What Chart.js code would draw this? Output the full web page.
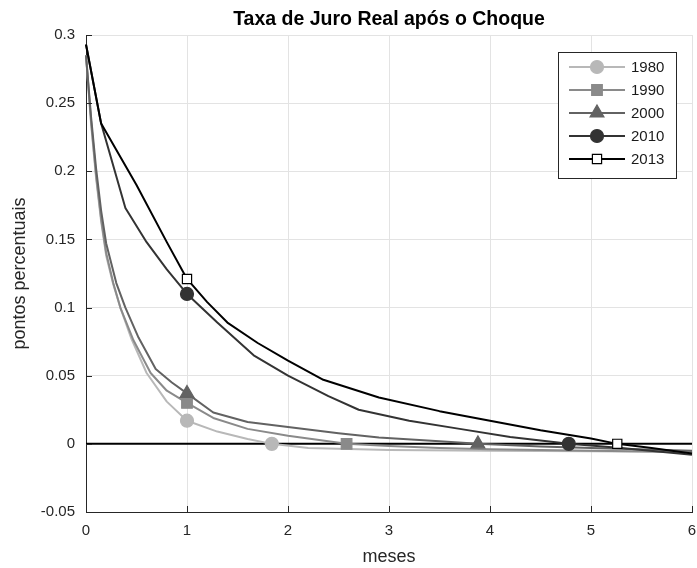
<!DOCTYPE html>
<html>
<head>
<meta charset="utf-8">
<script src="https://cdn.jsdelivr.net/npm/chart.js@4/dist/chart.umd.min.js"></script>
<style>
  html, body { margin: 0; padding: 0; background: #ffffff; }
  #wrap { width: 697px; height: 568px; }
</style>
</head>
<body>
<div id="wrap"><canvas id="c" width="697" height="568"></canvas></div>
<script>
// ---- data ----
const seriesNames = ['1980', '1990', '2000', '2010', '2013'];

const x1980 = [0, 0.05, 0.1, 0.15, 0.2, 0.27, 0.34, 0.45, 0.6, 0.8, 1, 1.3, 1.6, 1.84, 2.2, 3, 4, 5, 6];
const y1980 = [0.285, 0.235, 0.195, 0.163, 0.138, 0.117, 0.1, 0.077, 0.052, 0.031, 0.017, 0.009, 0.0035, 0, -0.003, -0.0045, -0.005, -0.0055, -0.006];

const x1990 = [0, 0.05, 0.1, 0.15, 0.2, 0.27, 0.34, 0.47, 0.64, 0.8, 1, 1.26, 1.6, 2, 2.58, 3, 3.5, 4, 5, 6];
const y1990 = [0.285, 0.237, 0.197, 0.165, 0.14, 0.118, 0.1, 0.076, 0.052, 0.039, 0.03, 0.019, 0.011, 0.006, 0, -0.0015, -0.003, -0.004, -0.005, -0.006];

const x2000 = [0, 0.05, 0.1, 0.15, 0.2, 0.3, 0.39, 0.52, 0.69, 0.85, 1, 1.26, 1.6, 2, 2.5, 2.9, 3.5, 3.88, 4.5, 5, 6];
const y2000 = [0.285, 0.24, 0.202, 0.171, 0.147, 0.118, 0.1, 0.078, 0.055, 0.045, 0.037, 0.023, 0.016, 0.0124, 0.0078, 0.0047, 0.002, 0, -0.002, -0.003, -0.005];

const x2010 = [0, 0.15, 0.39, 0.6, 0.8, 1, 1.3, 1.66, 2, 2.4, 2.7, 3.2, 3.7, 4.2, 4.78, 5.3, 6];
const y2010 = [0.293, 0.235, 0.173, 0.148, 0.128, 0.11, 0.089, 0.065, 0.05, 0.035, 0.025, 0.017, 0.011, 0.005, 0, -0.003, -0.008];

const x2013 = [0, 0.15, 0.5, 0.8, 1, 1.2, 1.4, 1.7, 2, 2.35, 2.9, 3.5, 4, 4.5, 5, 5.26, 5.6, 6];
const y2013 = [0.293, 0.235, 0.19, 0.148, 0.121, 0.104, 0.089, 0.074, 0.061, 0.047, 0.034, 0.024, 0.017, 0.01, 0.004, 0, -0.003, -0.007];

// marker locations (x values) for each series
const markers1980 = [1, 1.84];
const markers1990 = [1, 2.58];
const markers2000 = [1, 3.88];
const markers2010 = [1, 4.78];
const markers2013 = [1, 5.26];

const zeroX = [0, 6];
const zeroY = [0, 0];

const xTicks = [0, 1, 2, 3, 4, 5, 6];
const yTicks = [-0.05, 0, 0.05, 0.1, 0.15, 0.2, 0.25, 0.3];

// ---- styling ----
const FONT = "'Liberation Sans', Arial, Helvetica, sans-serif";
const styles = [
  { line: '#b8b8b8', fill: '#b8b8b8', border: '#b8b8b8', point: 'circle',   radius: 6.5 },
  { line: '#8a8a8a', fill: '#8a8a8a', border: '#8a8a8a', point: 'rect',     radius: 7.5 },
  { line: '#626262', fill: '#626262', border: '#626262', point: 'triangle', radius: 8 },
  { line: '#333333', fill: '#333333', border: '#333333', point: 'circle',   radius: 6.5 },
  { line: '#000000', fill: '#ffffff', border: '#000000', point: 'rect',     radius: 6.5 }
];

function pts(xs, ys) { return xs.map((x, i) => ({ x: x, y: ys[i] })); }

const allX = [x1980, x1990, x2000, x2010, x2013];
const allY = [y1980, y1990, y2000, y2010, y2013];
const allM = [markers1980, markers1990, markers2000, markers2010, markers2013];

const datasets = seriesNames.map((name, i) => {
  const st = styles[i];
  const marks = allM[i];
  return {
    label: name,
    data: pts(allX[i], allY[i]),
    borderColor: st.line,
    backgroundColor: st.fill,
    borderWidth: 2,
    tension: 0,
    borderJoinStyle: 'round',
    pointStyle: st.point,
    pointRadius: ctx => (ctx.raw && marks.indexOf(ctx.raw.x) >= 0) ? st.radius : 0,
    pointHoverRadius: 0,
    pointBackgroundColor: st.fill,
    pointBorderColor: st.border,
    pointBorderWidth: 1.2,
    order: 5 - i,
    clip: false
  };
});

datasets.push({
  label: 'zero',
  data: pts(zeroX, zeroY),
  borderColor: '#000000',
  borderWidth: 2,
  pointRadius: 0,
  order: 10
});

const PLOT = { left: 86, right: 692, top: 35, bottom: 512 };

// custom legend (line + marker) and inward ticks
const decorPlugin = {
  id: 'decor',
  afterDraw(chart) {
    const ctx = chart.ctx;
    const ca = chart.chartArea;
    const xs = chart.scales.x, ys = chart.scales.y;
    ctx.save();
    // inward ticks
    ctx.strokeStyle = '#262626';
    ctx.lineWidth = 1;
    ctx.beginPath();
    yTicks.forEach(v => {
      const py = Math.round(ys.getPixelForValue(v)) + 0.5;
      ctx.moveTo(ca.left, py); ctx.lineTo(ca.left + 6, py);
    });
    xTicks.forEach(v => {
      const px = Math.round(xs.getPixelForValue(v)) + 0.5;
      ctx.moveTo(px, ca.bottom); ctx.lineTo(px, ca.bottom - 6);
    });
    ctx.stroke();

    // legend
    const bx = ca.right - 134, by = ca.top + 17, bw = 118, bh = 126;
    ctx.fillStyle = '#ffffff';
    ctx.fillRect(bx, by, bw, bh);
    ctx.strokeStyle = '#262626';
    ctx.lineWidth = 1;
    ctx.strokeRect(bx + 0.5, by + 0.5, bw, bh);
    ctx.font = '15px ' + FONT;
    ctx.textBaseline = 'middle';
    ctx.textAlign = 'left';
    seriesNames.forEach((name, i) => {
      const st = styles[i];
      const cy = by + 15 + i * 23;
      ctx.strokeStyle = st.line;
      ctx.lineWidth = 2;
      ctx.beginPath();
      ctx.moveTo(bx + 11, cy); ctx.lineTo(bx + 67, cy);
      ctx.stroke();
      ctx.fillStyle = st.fill;
      ctx.strokeStyle = st.border;
      ctx.lineWidth = 1.2;
      Chart.helpers.drawPoint(ctx, { pointStyle: st.point, radius: st.radius, borderWidth: 1.2, rotation: 0 }, bx + 39, cy);
      ctx.fillStyle = '#1a1a1a';
      ctx.fillText(name, bx + 73, cy + 1);
    });
    ctx.restore();
  }
};

new Chart(document.getElementById('c'), {
  type: 'line',
  data: { datasets: datasets },
  options: {
    responsive: false,
    animation: false,
    events: [],
    layout: { padding: { left: 0, right: 697 - PLOT.right, top: 0, bottom: 0 } },
    plugins: {
      legend: { display: false },
      tooltip: { enabled: false },
      title: {
        display: true,
        fullSize: false,
        text: 'Taxa de Juro Real após o Choque',
        color: '#000000',
        font: { family: FONT, size: 19.5, weight: 'bold' },
        padding: { top: 8, bottom: 3.6 }
      }
    },
    scales: {
      x: {
        type: 'linear',
        min: 0, max: 6,
        afterBuildTicks: s => { s.ticks = xTicks.map(v => ({ value: v })); },
        afterFit: s => { s.height = 568 - PLOT.bottom; s.paddingRight = 0; s.paddingLeft = 0; },
        ticks: {
          color: '#262626',
          font: { family: FONT, size: 15 },
          padding: 10,
          maxRotation: 0,
          callback: v => String(v)
        },
        grid: { color: '#e3e3e3', lineWidth: 1, drawTicks: false },
        border: { display: true, color: '#262626', width: 1 },
        title: {
          display: true,
          text: 'meses',
          color: '#262626',
          font: { family: FONT, size: 18 },
          padding: { top: 0, bottom: 0 }
        }
      },
      y: {
        type: 'linear',
        min: -0.05, max: 0.3,
        afterBuildTicks: s => { s.ticks = yTicks.map(v => ({ value: v })); },
        afterFit: s => { s.width = PLOT.left; s.paddingTop = 0; s.paddingBottom = 0; },
        ticks: {
          color: '#262626',
          font: { family: FONT, size: 15 },
          padding: 11,
          callback: v => String(Number(Number(v).toFixed(3)))
        },
        grid: { color: '#e3e3e3', lineWidth: 1, drawTicks: false },
        border: { display: true, color: '#262626', width: 1 },
        title: {
          display: true,
          text: 'pontos percentuais',
          color: '#262626',
          font: { family: FONT, size: 18 },
          padding: { top: 9, bottom: 0 }
        }
      }
    }
  },
  plugins: [decorPlugin]
});
</script>
</body>
</html>
